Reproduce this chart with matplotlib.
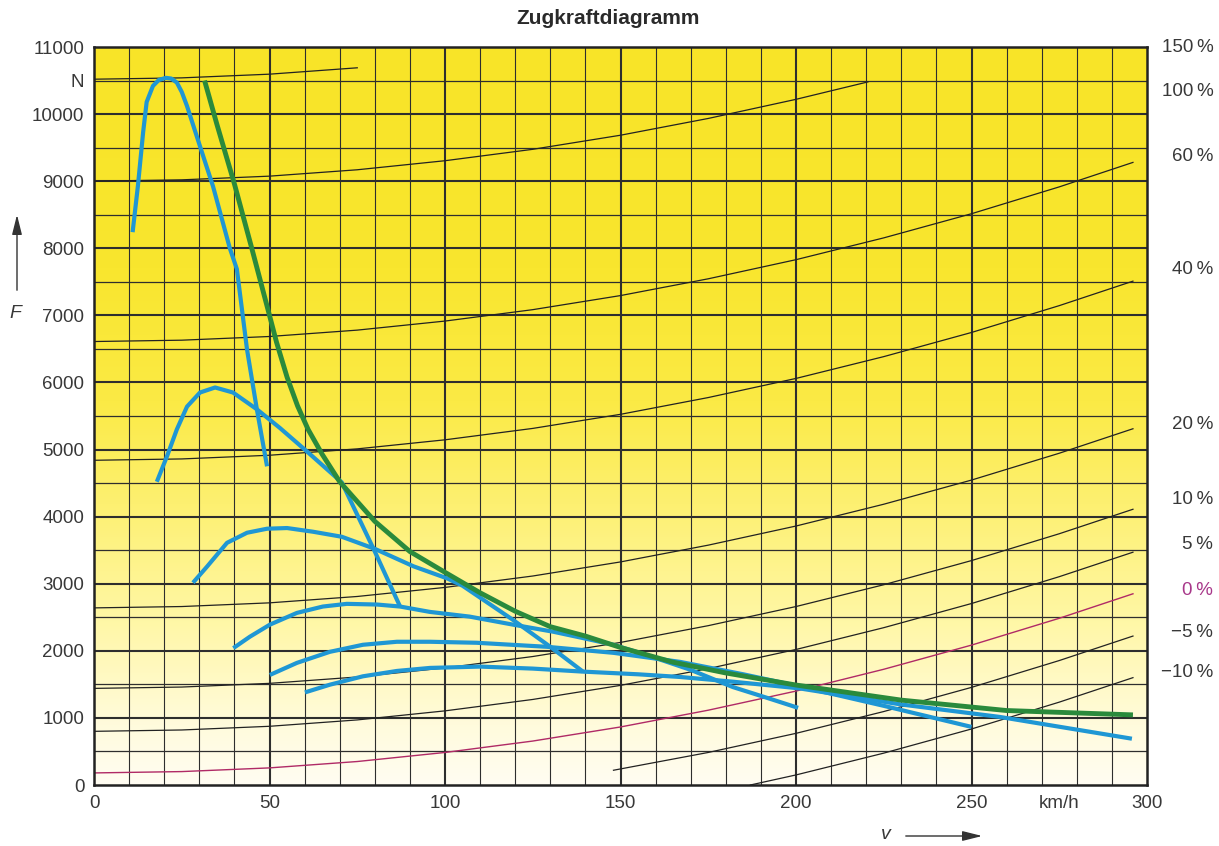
import numpy as np
import matplotlib
matplotlib.use('Agg')
import matplotlib.pyplot as plt
from matplotlib.colors import LinearSegmentedColormap
from matplotlib.transforms import blended_transform_factory

plt.rcParams['font.family'] = ['Liberation Sans', 'DejaVu Sans']

# Zugkraft-Hyperbel (ideal traction curve), v in km/h, F in N
ideal_v = [31.5, 35, 40, 45, 50, 52, 55, 58, 61, 65, 70, 80, 90, 100, 110, 120,
           130, 140, 150, 165, 180, 200, 230, 260, 296]
ideal_F = [10500, 9850, 8960, 7990, 7000, 6600, 6080, 5650, 5300, 4930, 4520,
           3930, 3480, 3170, 2865, 2590, 2360, 2220, 2050, 1830, 1670, 1490,
           1265, 1110, 1045]

# tractive force per gear
gear1_v = [11, 12.5, 14, 15, 16.8, 18.5, 20.5, 22, 23.6, 25, 26.5, 30.2, 33.9,
           38.7, 40.7, 43.6, 46.4, 49.3]
gear1_F = [8240, 8925, 9730, 10180, 10420, 10510, 10540, 10530, 10470, 10330,
           10120, 9520, 8925, 8000, 7690, 6490, 5600, 4750]

gear2_v = [17.9, 20.8, 23.6, 26.5, 30.2, 34.5, 39.6, 46.4, 53, 60.7, 70.6, 80, 87.2]
gear2_F = [4520, 4900, 5300, 5640, 5850, 5925, 5850, 5600, 5320, 4970, 4510, 3480, 2660]

gear3_v = [28.2, 32.2, 37.9, 43.6, 49.3, 55, 62.4, 70.6, 80, 91, 100.6, 105,
           119.4, 130, 139.3]
gear3_F = [3015, 3255, 3610, 3760, 3820, 3830, 3775, 3700, 3520, 3260, 3080,
           2970, 2460, 2060, 1690]

gear4_v = [39.7, 44.4, 50.1, 57.8, 65.2, 72, 80.6, 87.2, 95.7, 107, 119.4,
           130.8, 139.3, 148, 159, 170, 182, 191.7, 200.6]
gear4_F = [2040, 2210, 2390, 2565, 2660, 2700, 2690, 2660, 2580, 2510, 2390,
           2285, 2190, 2090, 1910, 1716, 1460, 1300, 1150]

gear5_v = [50.1, 57.8, 67.2, 76.6, 86.3, 95.7, 109, 129, 148, 167, 185, 201, 225, 250]
gear5_F = [1640, 1820, 1985, 2090, 2135, 2135, 2120, 2060, 1970, 1835, 1650,
           1470, 1180, 866]

gear6_v = [60.1, 67.2, 76.6, 86.3, 95.7, 110, 125, 139.3, 155, 167, 182, 201,
           230, 258, 295.7]
gear6_F = [1380, 1495, 1620, 1700, 1745, 1765, 1735, 1690, 1650, 1610, 1540,
           1440, 1200, 1015, 690]

gears = [(gear1_v, gear1_F), (gear2_v, gear2_F), (gear3_v, gear3_F),
         (gear4_v, gear4_F), (gear5_v, gear5_F), (gear6_v, gear6_F)]

# Fahrwiderstand bei Steigung/Gefaelle
res_v = [0, 25, 50, 75, 100, 125, 150, 175, 200, 225, 250, 275, 296]
res_150_v = [0, 25, 50, 75]
res_150_F = [10520, 10540, 10595, 10690]
res_100_v = [0, 25, 50, 75, 100, 125, 150, 175, 200, 220.5]
res_100_F = [9000, 9020, 9075, 9170, 9305, 9475, 9685, 9935, 10220, 10480]
res_60_F = [6610, 6630, 6685, 6780, 6915, 7085, 7295, 7545, 7830, 8155, 8515, 8915, 9280]
res_40_F = [4840, 4860, 4915, 5010, 5145, 5315, 5525, 5775, 6060, 6385, 6745, 7145, 7510]
res_20_F = [2640, 2660, 2715, 2810, 2945, 3115, 3325, 3575, 3860, 4185, 4545, 4945, 5310]
res_10_F = [1440, 1460, 1515, 1610, 1745, 1915, 2125, 2375, 2660, 2985, 3345, 3745, 4110]
res_5_F = [800, 820, 875, 970, 1105, 1275, 1485, 1735, 2020, 2345, 2705, 3105, 3470]
res_0_F = [180, 200, 255, 350, 485, 655, 865, 1115, 1400, 1725, 2085, 2485, 2850]
res_m5_v = [148, 175, 200, 225, 250, 275, 296]
res_m5_F = [220, 485, 770, 1095, 1455, 1855, 2220]
res_m10_v = [187, 200, 225, 250, 275, 296]
res_m10_F = [0, 150, 475, 835, 1235, 1600]

pct_labels = ['150\u2009%', '100\u2009%', '60\u2009%', '40\u2009%', '20\u2009%',
              '10\u2009%', '5\u2009%', '0\u2009%', '\u22125\u2009%', '\u221210\u2009%']
pct_y = [11000, 10330, 9370, 7690, 5370, 4250, 3580, 2895, 2280, 1670]

x_ticks = [0, 50, 100, 150, 200, 250, 275, 300]
x_ticklabels = ['0', '50', '100', '150', '200', '250', 'km/h', '300']
y_ticks = [0, 1000, 2000, 3000, 4000, 5000, 6000, 7000, 8000, 9000, 10000, 10500, 11000]
y_ticklabels = ['0', '1000', '2000', '3000', '4000', '5000', '6000', '7000',
                '8000', '9000', '10000', 'N', '11000']

text_col = '#383838'
grid_col = '#2e2e2e'
blue = '#1f97d4'
green = '#2a8a3c'
magenta = '#b02a66'

fig = plt.figure(figsize=(12.19, 8.46), dpi=100)
ax = fig.add_axes([94 / 1219, 61 / 846, 1053 / 1219, 738 / 846])
ax.set_xlim(0, 300)
ax.set_ylim(0, 11000)

# yellow background fading to white at the bottom
bg = LinearSegmentedColormap.from_list('bg', [
    (0.0, '#fffdf2'), (0.08, '#fffbdc'), (0.22, '#fff7a6'),
    (0.38, '#fdf071'), (0.52, '#fbea45'), (0.7, '#f9e62e'), (1.0, '#f8e428')])
grad = np.linspace(0, 1, 256).reshape(-1, 1)
ax.imshow(grad, extent=[0, 300, 0, 11000], origin='lower', aspect='auto',
          cmap=bg, zorder=0)

# grid
for v in np.arange(10, 300, 10):
    ax.axvline(v, color=grid_col, lw=1.5 if v % 50 == 0 else 0.8, zorder=1)
for f in np.arange(500, 11000, 500):
    ax.axhline(f, color=grid_col, lw=1.5 if f % 1000 == 0 else 0.9, zorder=1)

# resistance lines
res_lines = [(res_150_v, res_150_F), (res_100_v, res_100_F), (res_v, res_60_F),
             (res_v, res_40_F), (res_v, res_20_F), (res_v, res_10_F),
             (res_v, res_5_F), (res_m5_v, res_m5_F), (res_m10_v, res_m10_F)]
for rv, rf in res_lines:
    ax.plot(rv, rf, color='#222222', lw=0.9, zorder=2)
ax.plot(res_v, res_0_F, color=magenta, lw=1.0, zorder=2)

# gear curves
for gv, gf in gears:
    ax.plot(gv, gf, color=blue, lw=3.0, solid_joinstyle='round',
            solid_capstyle='butt', zorder=3)
ax.plot(ideal_v, ideal_F, color=green, lw=3.5, solid_joinstyle='round',
        solid_capstyle='butt', zorder=4)

for s in ax.spines.values():
    s.set_linewidth(1.8)
    s.set_color('#222222')
    s.set_zorder(5)

ax.set_xticks(x_ticks)
ax.set_xticklabels(x_ticklabels)
ax.set_yticks(y_ticks)
ax.set_yticklabels(y_ticklabels)
ax.tick_params(length=0, labelsize=13.5, labelcolor=text_col, pad=7)

tr = blended_transform_factory(ax.transAxes, ax.transData)
for lab, yy in zip(pct_labels, pct_y):
    col = '#a8388a' if lab.startswith('0') else text_col
    ax.text(1.063, yy, lab, transform=tr, ha='right', va='center',
            fontsize=13.5, color=col)

fig.text(608 / 1219, 1 - 18 / 846, 'Zugkraftdiagramm', ha='center', va='center',
         fontsize=15, fontweight='bold', color='#2a2a2a',
         family=['Liberation Sans Narrow', 'Liberation Sans', 'DejaVu Sans'])

# axis symbols with arrows
fig.text(15 / 1219, 1 - 313 / 846, 'F', ha='center', va='center', fontsize=14,
         style='italic', color=text_col)
ax.annotate('', xy=(17, 846 - 212), xytext=(17, 846 - 293),
            xycoords='figure pixels', textcoords='figure pixels',
            arrowprops=dict(arrowstyle='-|>,head_length=1.2,head_width=0.3',
                            color='#333333', lw=1.0))
fig.text(886 / 1219, 1 - 834 / 846, 'v', ha='center', va='center', fontsize=14,
         style='italic', color=text_col)
ax.annotate('', xy=(985, 846 - 836), xytext=(903, 846 - 836),
            xycoords='figure pixels', textcoords='figure pixels',
            arrowprops=dict(arrowstyle='-|>,head_length=1.2,head_width=0.3',
                            color='#333333', lw=1.0))

fig.savefig('out.png', dpi=100)
